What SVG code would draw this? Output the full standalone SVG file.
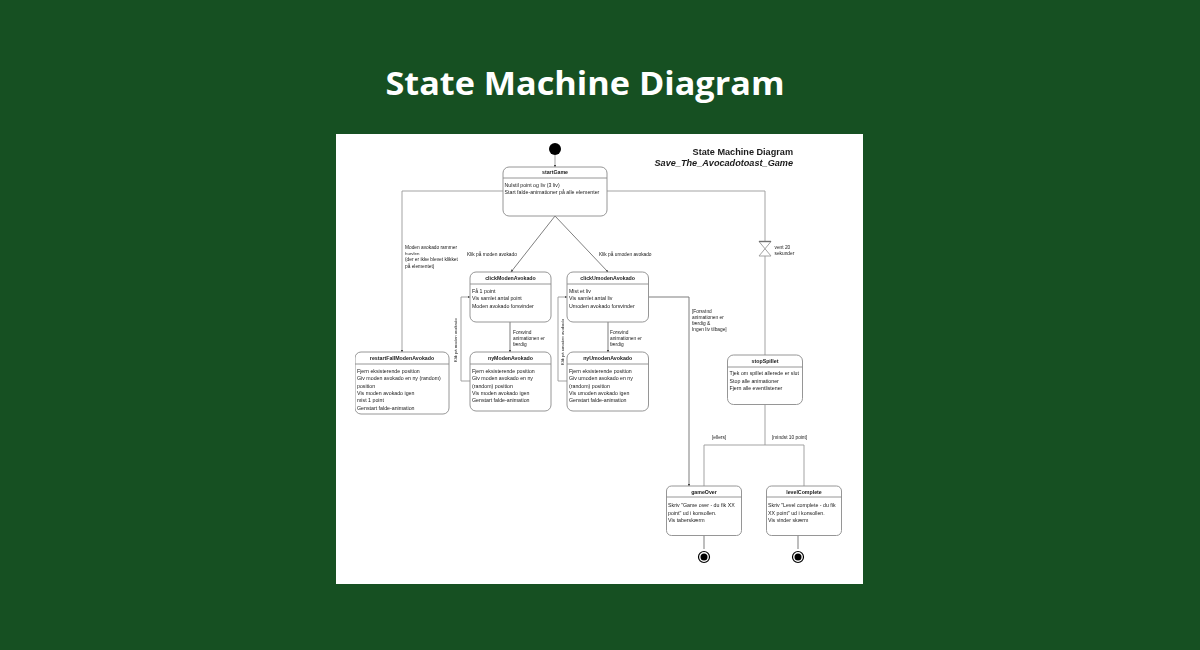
<svg xmlns="http://www.w3.org/2000/svg" width="1200" height="650" viewBox="0 0 1200 650">
<style>
text{font-family:"Liberation Sans",Arial,sans-serif;fill:#1a1a1a;font-size:5.25px}
.box{fill:#fff;stroke:#8a8a8a;stroke-width:.9}
.div{stroke:#8a8a8a;stroke-width:.9;fill:none}
.name{font-weight:bold;text-anchor:middle;font-size:5.25px}
.lab{font-size:4.8px}
.small{font-size:4.4px}
.c{fill:none;stroke:#999;stroke-width:.9}
.d{fill:none;stroke:#707070;stroke-width:.9}
.soft{filter:url(#s)}
</style>
<defs>
<marker id="a" viewBox="0 0 6 6" refX="5.5" refY="3" markerWidth="2.6" markerHeight="2.6" orient="auto" markerUnits="userSpaceOnUse"><path d="M0 0L6 3L0 6Z" fill="#444"/></marker>
<filter id="s" x="0" y="0" width="1" height="1"><feGaussianBlur stdDeviation="0.3"/></filter>
</defs>
<rect width="1200" height="650" fill="#165022"/>
<text x="585" y="94.500" text-anchor="middle" style="font-family:'Open Sans',sans-serif;font-weight:700;font-size:33px;fill:#fff" textLength="399" lengthAdjust="spacingAndGlyphs">State Machine Diagram</text>
<rect x="336" y="134" width="527" height="450" fill="#fff"/>
<g class="soft">
<text x="793" y="155" text-anchor="end" style="font-size:9.150px;font-weight:bold">State Machine Diagram</text>
<text x="793" y="166" text-anchor="end" style="font-size:9.150px;font-weight:bold;font-style:italic">Save_The_Avocadotoast_Game</text>

<g id="connectors">
<path class="c" marker-end="url(#a)" d="M555 155V167"/>
<path class="c" marker-end="url(#a)" d="M503 191H402V352"/>
<path class="c" d="M607 191H765V241M765 256V355"/>
<path class="d" marker-end="url(#a)" d="M555 216L511 272"/>
<path class="d" marker-end="url(#a)" d="M555 216L608 272"/>
<path class="d" marker-end="url(#a)" d="M510 322V352"/>
<path class="d" marker-end="url(#a)" d="M608 322V352"/>
<path class="c" marker-end="url(#a)" d="M470 381H461V297H470"/>
<path class="c" marker-end="url(#a)" d="M567 381H558V297H567"/>
<path class="d" marker-end="url(#a)" d="M649 297H689V486"/>
<path class="c" d="M765 404V445M704 486V445H804V486"/>
<path class="d" d="M704 535V549M798 535V549"/>
<path class="c" d="M759 241.500H771L759 256H771Z"/>
<path class="d" d="M759 241.500H771" style="stroke-width:1.400"/>
<text class="lab" x="405" y="249">Moden avokado rammer</text>
<text class="small" x="405" y="255">hurvlen</text>
<text class="lab" x="405" y="261">(der er ikke blevet klikket</text>
<text class="lab" x="405" y="268">på elementet)</text>
<text class="lab" x="467" y="256">Klik på moden avokado</text>
<text class="lab" x="599" y="256">Klik på umoden avokado</text>
<text class="lab" x="774.500" y="249">vent 20</text>
<text class="lab" x="774.500" y="254.500">sekunder</text>
<text class="lab" x="513" y="334">Forsvind</text>
<text class="lab" x="513" y="340">animationen er</text>
<text class="lab" x="513" y="346">færdig</text>
<text class="lab" x="610" y="334">Forsvind</text>
<text class="lab" x="610" y="340">animationen er</text>
<text class="lab" x="610" y="346">færdig</text>
<text class="lab" x="692" y="313">[Forsvind</text>
<text class="lab" x="692" y="319">animationen er</text>
<text class="lab" x="692" y="324.500">færdig &amp;</text>
<text class="lab" x="692" y="331">Ingen liv tilbage]</text>
<text class="lab" x="712" y="439">[ellers]</text>
<text class="lab" x="772" y="439">[mindst 10 point]</text>
<text transform="translate(456.500 362) rotate(-90)" style="font-size:4.200px">Klik på moden avokado</text>
<text transform="translate(563.500 365) rotate(-90)" style="font-size:4.200px">Klik på umoden avokado</text>
</g>

<g id="start"><circle cx="555" cy="149" r="6" fill="#000"/></g>

<g id="startGame"><rect class="box" x="503" y="167" width="104" height="49" rx="6"/><path class="div" d="M503 178H607"/>
<text class="name" x="555" y="174">startGame</text>
<text x="504.500" y="187">Nulstil point og liv (3 liv)</text>
<text x="504.500" y="194">Start falde-animationer på alle elementer</text></g>

<g id="clickModenAvokado"><rect class="box" x="470" y="272" width="81" height="50" rx="6"/><path class="div" d="M470 284H551"/>
<text class="name" x="510.500" y="279.500">clickModenAvokado</text>
<text x="472" y="293">Få 1 point</text>
<text x="472" y="300">Vis samlet antal point</text>
<text x="472" y="307.500">Moden avokado forsvinder</text></g>

<g id="clickUmodenAvokado"><rect class="box" x="567" y="272" width="81.500" height="50" rx="6"/><path class="div" d="M567 284H648.500"/>
<text class="name" x="607.700" y="279.500">clickUmodenAvokado</text>
<text x="569" y="293">Mist et liv</text>
<text x="569" y="300">Vis samlet antal liv</text>
<text x="569" y="307.500">Umoden avokado forsvinder</text></g>

<g id="restartFallModenAvokado"><rect class="box" x="355" y="352" width="94" height="62" rx="6"/><path class="div" d="M355 364H449"/>
<text class="name" x="402" y="360">restartFallModenAvokado</text>
<text x="357" y="373">Fjern eksisterende position</text>
<text x="357" y="380">Giv moden avokado en ny (random)</text>
<text x="357" y="388">position</text>
<text x="357" y="395">Vis moden avokado igen</text>
<text x="357" y="402">mist 1 point</text>
<text x="357" y="410">Genstart falde-animation</text></g>

<g id="nyModenAvokado"><rect class="box" x="470" y="352" width="81" height="59" rx="6"/><path class="div" d="M470 364H551"/>
<text class="name" x="510.500" y="360">nyModenAvokado</text>
<text x="472" y="373">Fjern eksisterende position</text>
<text x="472" y="380">Giv moden avokado en ny</text>
<text x="472" y="388">(random) position</text>
<text x="472" y="395">Vis moden avokado igen</text>
<text x="472" y="402">Genstart falde-animation</text></g>

<g id="nyUmodenAvokado"><rect class="box" x="567" y="352" width="81.500" height="59" rx="6"/><path class="div" d="M567 364H648.500"/>
<text class="name" x="607.700" y="360">nyUmodenAvokado</text>
<text x="569" y="373">Fjern eksisterende position</text>
<text x="569" y="380">Giv umoden avokado en ny</text>
<text x="569" y="388">(random) position</text>
<text x="569" y="395">Vis umoden avokado igen</text>
<text x="569" y="402">Genstart falde-animation</text></g>

<g id="stopSpillet"><rect class="box" x="727.500" y="355" width="75" height="49.500" rx="6"/><path class="div" d="M727.500 367H802.500"/>
<text class="name" x="765" y="362.500">stopSpillet</text>
<text x="729.500" y="375">Tjek om spillet allerede er slut</text>
<text x="729.500" y="383">Stop alle animationer</text>
<text x="729.500" y="390">Fjern alle eventlistener</text></g>

<g id="gameOver"><rect class="box" x="666.500" y="486" width="75" height="49.500" rx="5"/><path class="div" d="M666.500 497H741.500"/>
<text class="name" x="704" y="493.500">gameOver</text>
<text x="668" y="507">Skriv "Game over - du fik XX</text>
<text x="668" y="514.500">point" ud i konsollen.</text>
<text x="668" y="521.500">Vis taberskærm</text></g>

<g id="levelComplete"><rect class="box" x="766.500" y="486" width="75" height="49.500" rx="5"/><path class="div" d="M766.500 497H841.500"/>
<text class="name" x="804" y="493.500">levelComplete</text>
<text x="768" y="507">Skriv "Level complete - du fik</text>
<text x="768" y="514.500">XX point" ud i konsollen.</text>
<text x="768" y="521.500">Vis vinder skærm</text></g>

<g id="end1"><circle cx="704" cy="557" r="5.500" fill="#fff" stroke="#000" stroke-width="1.200"/><circle cx="704" cy="557" r="3.500" fill="#000"/></g>
<g id="end2"><circle cx="798" cy="557" r="5.500" fill="#fff" stroke="#000" stroke-width="1.200"/><circle cx="798" cy="557" r="3.500" fill="#000"/></g>
</g>
</svg>
